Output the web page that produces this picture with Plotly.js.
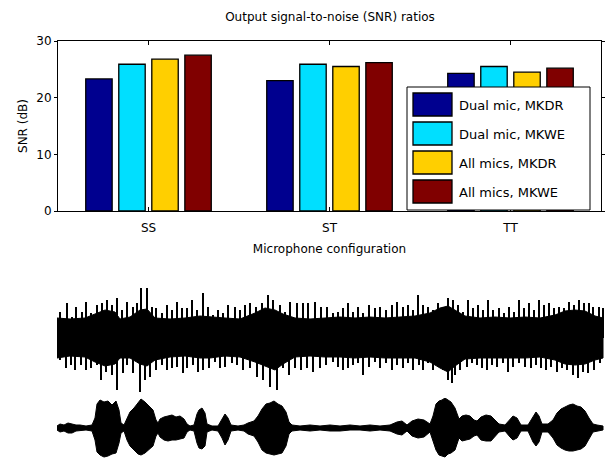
<!DOCTYPE html>
<html>
<head>
<meta charset="utf-8">
<script src="https://cdn.plot.ly/plotly-3.0.1.min.js"></script>
<style>html,body{margin:0;padding:0;background:#fff;}#chart{width:605px;height:458px;}</style>
</head>
<body>
<div id="chart"></div>
<script>
// ---------- bar chart data ----------
const categories = ['SS', 'ST', 'TT'];
const seriesNames = ['Dual mic, MKDR', 'Dual mic, MKWE', 'All mics, MKDR', 'All mics, MKWE'];
const dualMicMKDR = [23.3, 23.0, 24.3];
const dualMicMKWE = [25.9, 25.9, 25.5];
const allMicsMKDR = [26.8, 25.5, 24.5];
const allMicsMKWE = [27.5, 26.2, 25.2];
const yTickVals = [0, 10, 20, 30];

// ---------- waveform 1 (noisy mixture): body envelope ----------
const w1BodyT    = [0,13,28,38,48,58,63,73,83,90,98,113,128,143,153,168,183,198,208,218,226,238,253,268,283,298,313,328,343,358,373,383,391,398,408,423,438,453,468,483,498,508,518,528,538,546];
const w1BodyUp   = [20,19,20,24,28,26,19,21,28,29,20,19,20,22,21,20,19,25,30,28,24,20,19,20,21,20,21,20,21,22,25,30,32,28,22,20,21,20,21,20,23,27,28,27,22,20];
const w1BodyDown = [20,18,19,24,28,26,20,20,26,28,22,19,18,20,20,18,19,24,28,32,26,19,18,19,19,20,19,20,20,20,24,30,34,28,21,20,20,20,20,19,22,26,27,26,22,20];
// waveform 1 spikes (peak tips)
const w1UpT = [3,10,15,19,25,29,34,40,45,50,55,60,65,70,76,80,84,90,95,99,105,110,115,120,125,130,135,140,146,151,156,161,166,171,178,183,188,193,199,205,211,216,223,228,233,240,246,251,258,264,270,276,281,286,291,296,301,306,312,318,323,329,335,340,346,351,356,361,366,371,376,381,386,391,396,401,406,411,416,421,426,431,436,442,447,452,457,462,467,472,477,482,487,492,497,502,507,512,517,522,527,532,536,542,546];
const w1UpA = [26,35,21,31,26,36,25,33,35,38,33,40,28,36,31,35,50,50,31,30,25,33,28,36,30,30,38,28,45,31,23,28,25,33,31,28,33,35,31,35,43,38,33,26,36,35,35,35,36,31,31,25,26,30,35,26,31,25,33,30,31,28,33,36,31,33,28,43,33,31,28,35,31,40,38,33,26,38,30,33,28,38,28,30,25,31,26,38,30,35,28,38,33,35,30,31,30,36,33,38,35,35,31,31,30];
const w1DnT = [3,9,14,18,24,29,34,40,44,49,55,60,66,70,76,83,88,93,99,105,110,115,120,126,130,136,141,146,152,158,163,168,175,180,186,193,200,206,213,220,226,232,238,244,250,256,263,269,276,281,286,291,296,301,306,312,318,323,329,335,340,346,351,356,362,366,371,376,381,386,391,395,398,403,410,415,420,425,430,435,440,446,451,456,462,468,474,479,484,489,494,500,505,510,516,521,526,531,537,543];
const w1DnA = [22,30,27,32,27,32,30,27,42,34,37,52,35,27,35,54,42,39,32,27,32,30,29,35,30,27,34,32,30,24,30,29,25,27,32,30,39,42,49,52,30,37,30,32,30,34,30,27,24,29,32,30,27,25,37,29,24,30,25,32,27,30,25,32,27,32,25,32,29,32,42,45,37,32,29,25,27,30,32,27,29,25,34,29,25,29,30,27,30,32,29,34,30,32,37,40,34,35,32,25];

// ---------- waveform 2 (clean speech): envelope ----------
const w2T    = [0,3,7,11,15,19,23,29,35,38,40,43,47,51,55,59,62,64,67,70,73,77,81,84,88,92,96,99,101,103,107,111,115,119,123,127,130,133,137,140,142,145,148,150,155,161,165,168,171,174,181,187,191,197,201,205,209,213,217,221,225,229,232,235,243,253,263,273,283,293,303,313,323,333,340,345,350,355,361,367,373,376,379,382,385,388,391,394,398,402,405,409,413,417,420,424,429,434,438,442,448,453,456,460,464,471,476,479,482,485,491,496,500,504,508,512,516,520,524,528,532,536,540,546];
const w2Up   = [2,4,3,5,4,3,3,2,3,10,24,28,26,27,23,27,18,5,3,10,16,20,25,29,26,22,18,8,5,9,11,12,13,11,12,9,4,2,3,14,18,20,15,4,2,2,9,14,10,3,2,3,5,7,12,19,24,25,27,24,22,16,6,3,2,3,2,3,2,3,2,3,2,3,6,7,3,7,9,8,4,12,24,27,28,30,28,26,20,9,12,13,12,8,7,11,13,12,8,4,3,8,12,10,3,3,12,16,12,4,4,8,15,19,21,23,24,22,21,17,10,4,3,2];
const w2Down = [2,4,3,5,5,3,3,2,3,12,24,27,29,28,26,25,15,5,3,12,18,22,26,27,25,22,18,8,5,9,12,13,12,12,11,10,4,2,3,15,20,21,18,4,2,3,10,17,12,3,2,3,6,8,14,22,25,26,27,26,25,18,6,3,2,3,2,3,3,2,2,3,2,3,6,7,3,8,10,9,4,14,22,27,28,29,26,25,22,10,13,12,11,8,7,12,13,13,9,4,3,9,12,10,3,3,14,18,14,4,4,10,17,20,22,23,23,22,21,18,11,4,3,2];

// ---------- colours / styles ----------
const barColors = ['#00008F', '#00DFFF', '#FFCF00', '#800000'];
const FONT = 'DejaVu Sans, Arial, sans-serif';
const W = 605, H = 458;
const px = v => v / W;           // page x (px) -> paper
const py = v => 1 - v / H;       // page y (px) -> paper

const seriesValues = [dualMicMKDR, dualMicMKWE, allMicsMKDR, allMicsMKWE];
const traces = [];
seriesValues.forEach((vals, i) => {
  traces.push({
    type: 'bar', x: categories, y: vals, name: seriesNames[i],
    marker: {color: barColors[i], line: {color: '#000', width: 1.3}},
    xaxis: 'x', yaxis: 'y', showlegend: false, hoverinfo: 'skip'
  });
});

function envelope(t, up, down, xa, ya) {
  return {
    type: 'scatter', mode: 'lines',
    x: t.concat(t.slice().reverse()),
    y: up.concat(down.map(v => -v).reverse()),
    fill: 'toself', fillcolor: '#000', line: {color: '#000', width: 1},
    xaxis: xa, yaxis: ya, showlegend: false, hoverinfo: 'skip'
  };
}
function spikes(t, a, sign, xa, ya) {
  const xs = [], ys = [];
  t.forEach((v, i) => { xs.push(v, v, null); ys.push(0, sign * a[i], null); });
  return {type: 'scatter', mode: 'lines', x: xs, y: ys, line: {color: '#000', width: 2},
          xaxis: xa, yaxis: ya, showlegend: false, hoverinfo: 'skip'};
}
traces.push(envelope(w1BodyT, w1BodyUp, w1BodyDown, 'x2', 'y2'));
traces.push(spikes(w1UpT, w1UpA, 1, 'x2', 'y2'));
traces.push(spikes(w1DnT, w1DnA, -1, 'x2', 'y2'));
traces.push(envelope(w2T, w2Up, w2Down, 'x3', 'y3'));

// ---------- hand-drawn legend (large swatches) ----------
const shapes = [{type: 'rect', xref: 'paper', yref: 'paper', x0: px(407), x1: px(590), y0: py(210), y1: py(87),
                 fillcolor: '#fff', line: {color: '#000', width: 1}, layer: 'above'}];
const annotations = [];
const rowY = [104.5, 133.5, 162.5, 191.5];
seriesNames.forEach((n, i) => {
  shapes.push({type: 'rect', xref: 'paper', yref: 'paper', x0: px(413), x1: px(452),
               y0: py(rowY[i] + 11.5), y1: py(rowY[i] - 11.5),
               fillcolor: barColors[i], line: {color: '#000', width: 1.3}, layer: 'above'});
  annotations.push({xref: 'paper', yref: 'paper', x: px(457), y: py(rowY[i] + 1), xanchor: 'left', yanchor: 'middle',
                    text: n, showarrow: false, font: {family: FONT, size: 13, color: '#000'}});
});

const layout = {
  width: W, height: H, margin: {l: 0, r: 0, t: 0, b: 0},
  paper_bgcolor: '#fff', plot_bgcolor: 'rgba(0,0,0,0)',
  font: {family: FONT, size: 12, color: '#000'},
  showlegend: false,
  barmode: 'group', bargap: 0.27, bargroupgap: 0.2,
  title: {text: 'Output signal-to-noise (SNR) ratios', x: px(330), xref: 'paper', xanchor: 'center',
          y: py(17), yref: 'paper', yanchor: 'middle', font: {family: FONT, size: 12, color: '#000'}},
  xaxis: {domain: [px(58), px(601)], anchor: 'y', type: 'category', range: [-0.5, 2.5],
          showline: true, linecolor: '#000', linewidth: 1, mirror: 'ticks',
          ticks: 'inside', ticklen: 4, tickcolor: '#000', showgrid: false, zeroline: false,
          tickfont: {family: FONT, size: 12}, automargin: false, ticklabelstandoff: 6,
          title: {text: 'Microphone configuration', standoff: 10, font: {family: FONT, size: 12}}},
  yaxis: {domain: [py(211), py(41)], anchor: 'x', range: [0, 30], tickvals: yTickVals,
          showline: true, linecolor: '#000', linewidth: 1, mirror: 'ticks',
          ticks: 'outside', ticklen: 3, tickcolor: '#000', showgrid: false, zeroline: false,
          tickfont: {family: FONT, size: 12}, automargin: false,
          title: {text: 'SNR (dB)', standoff: 6, font: {family: FONT, size: 12}}},
  xaxis2: {domain: [0, 1], range: [-57, 548], anchor: 'y2', visible: false, fixedrange: true},
  yaxis2: {domain: [60 / H, 180 / H], range: [-60, 60], anchor: 'x2', visible: false, fixedrange: true},
  xaxis3: {domain: [0, 1], range: [-57, 548], anchor: 'y3', visible: false, fixedrange: true},
  yaxis3: {domain: [0, 60 / H], range: [-30, 30], anchor: 'x3', visible: false, fixedrange: true},
  shapes: shapes, annotations: annotations
};

Plotly.newPlot('chart', traces, layout, {staticPlot: true, displayModeBar: false});
</script>
</body>
</html>
